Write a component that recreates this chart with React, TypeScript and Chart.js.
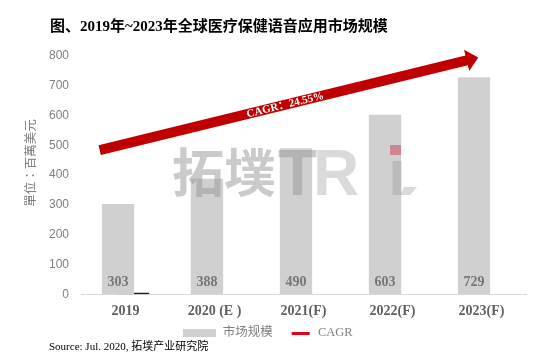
import React, { useEffect, useRef } from 'react';
import { Chart, registerables } from 'chart.js';

Chart.register(...registerables);

// ---- data ----
const categories = ['2019', '2020 (E )', '2021(F)', '2022(F)', '2023(F)'];
const marketSize = [303, 388, 490, 603, 729];
const cagrSeries = [5, null, null, null, null];
const seriesNames = ['市场规模', 'CAGR'];
const yMin = 0;
const yMax = 800;
const yStep = 100;
const cagrText = 'CAGR：24.55%';
// arrow annotation in data space (category index, value)
const arrowStart = { x: -0.29, y: 484 };
const arrowEnd = { x: 3.964, y: 795 };

const titleText = '图、2019年~2023年全球医疗保健语音应用市场规模';
const yTitleText = '單位：百萬美元';
const sourceText = 'Source: Jul. 2020, 拓墣产业研究院';
const watermarkCJK = '拓墣';

const BAR_COLOR = '#D0D0D0';
const RED_ARROW = '#C00000';
const LEGEND_RED = '#E3001B';

function makeSwatch(w: number, h: number, color: string, x0: number, x1: number) {
  const c = document.createElement('canvas');
  c.width = w;
  c.height = h;
  const g = c.getContext('2d')!;
  g.fillStyle = color;
  g.fillRect(x0, 0, x1 - x0, h);
  return c;
}

const decorPlugin = {
  id: 'decor',
  afterDatasetsDraw(chart: any) {
    const { ctx, scales } = chart;
    const x = scales.x;
    const y = scales.y;

    // watermark
    ctx.save();
    ctx.fillStyle = 'rgba(150,150,150,0.5)';
    ctx.textBaseline = 'middle';
    ctx.textAlign = 'left';
    ctx.font = 'bold 52px "Noto Sans CJK SC"';
    ctx.fillText(watermarkCJK, 172, 172);
    ctx.font = 'bold 64px "Liberation Sans"';
    ctx.textBaseline = 'alphabetic';
    ctx.fillStyle = 'rgba(150,150,150,0.5)';
    ctx.fillText('T', 278, 195);
    ctx.fillStyle = 'rgba(150,150,150,0.35)';
    ctx.fillText('R', 313, 195);
    ctx.fillText('ı', 388, 195);
    ctx.beginPath();
    ctx.moveTo(404, 187);
    ctx.lineTo(417, 187);
    ctx.lineTo(410, 195);
    ctx.lineTo(400, 195);
    ctx.closePath();
    ctx.fill();
    ctx.fillStyle = 'rgba(205,60,75,0.5)';
    ctx.fillRect(390, 145, 11, 10);
    ctx.restore();

    // data labels
    const meta = chart.getDatasetMeta(0);
    ctx.save();
    ctx.font = 'bold 14px "Liberation Serif"';
    ctx.fillStyle = '#767676';
    ctx.textAlign = 'center';
    ctx.textBaseline = 'middle';
    meta.data.forEach((bar: any, i: number) => {
      ctx.fillText(String(marketSize[i]), bar.x, bar.base - 12);
    });
    ctx.restore();

    // arrow
    const p0 = { x: x.getPixelForValue(arrowStart.x), y: y.getPixelForValue(arrowStart.y) };
    const p1 = { x: x.getPixelForValue(arrowEnd.x), y: y.getPixelForValue(arrowEnd.y) };
    const dx = p1.x - p0.x;
    const dy = p1.y - p0.y;
    const len = Math.hypot(dx, dy);
    const u = { x: dx / len, y: dy / len };
    const n = { x: -u.y, y: u.x };
    const shaft = 5;
    const headHalf = 11;
    const headLen = 12;
    const b = { x: p1.x - u.x * headLen, y: p1.y - u.y * headLen };
    ctx.save();
    ctx.fillStyle = RED_ARROW;
    ctx.beginPath();
    ctx.moveTo(p0.x + n.x * shaft, p0.y + n.y * shaft);
    ctx.lineTo(b.x + n.x * shaft, b.y + n.y * shaft);
    ctx.lineTo(b.x + n.x * headHalf, b.y + n.y * headHalf);
    ctx.lineTo(p1.x, p1.y);
    ctx.lineTo(b.x - n.x * headHalf, b.y - n.y * headHalf);
    ctx.lineTo(b.x - n.x * shaft, b.y - n.y * shaft);
    ctx.lineTo(p0.x - n.x * shaft, p0.y - n.y * shaft);
    ctx.closePath();
    ctx.fill();
    const t = 0.49;
    ctx.translate(p0.x + dx * t, p0.y + dy * t);
    ctx.rotate(Math.atan2(dy, dx));
    ctx.fillStyle = '#FFFFFF';
    ctx.font = 'bold 11px "Liberation Serif", "Noto Sans CJK SC"';
    ctx.textAlign = 'center';
    ctx.textBaseline = 'middle';
    ctx.fillText(cagrText, 0, 0.5);
    ctx.restore();
  },
  afterDraw(chart: any) {
    const { ctx } = chart;
    ctx.save();
    // title
    ctx.fillStyle = '#000000';
    ctx.font = 'bold 15px "Liberation Serif", "Noto Sans CJK SC"';
    ctx.textAlign = 'left';
    ctx.textBaseline = 'middle';
    ctx.fillText(titleText, 50, 27);
    // source
    ctx.font = '11px "Liberation Serif", "Noto Sans CJK SC"';
    ctx.fillText(sourceText, 49, 347);
    // y title
    ctx.translate(30, 163);
    ctx.rotate(-Math.PI / 2);
    ctx.textAlign = 'center';
    ctx.fillStyle = '#7f7f7f';
    ctx.font = '12.5px "Noto Sans CJK TC"';
    ctx.fillText(yTitleText, 0, 0);
    ctx.restore();
  },
};

export default function App() {
  const ref = useRef<HTMLCanvasElement | null>(null);

  useEffect(() => {
    document.body.style.margin = '0';
    const canvas = ref.current;
    if (!canvas) return;
    const greySwatch = makeSwatch(33, 8, BAR_COLOR, 0, 33);
    const redSwatch = makeSwatch(33, 3, LEGEND_RED, 13, 31);

    const chart = new Chart(canvas, {
      type: 'bar',
      data: {
        labels: categories,
        datasets: [
          {
            label: seriesNames[0],
            data: marketSize,
            backgroundColor: BAR_COLOR,
            borderWidth: 0,
          },
          {
            label: seriesNames[1],
            data: cagrSeries as any,
            backgroundColor: '#1a1a1a',
            borderWidth: 0,
          },
        ],
      },
      options: {
        responsive: false,
        animation: false,
        devicePixelRatio: 1,
        layout: { padding: { left: 10, right: 8, top: 56, bottom: 7.75 } },
        datasets: {
          bar: { categoryPercentage: 0.337, barPercentage: 2.153 },
        },
        scales: {
          x: {
            offset: true,
            grid: { display: false, drawTicks: false },
            border: { display: true, color: '#D9D9D9', width: 1 },
            ticks: {
              color: '#606060',
              font: { family: '"Liberation Serif"', size: 14, weight: 'bold' },
              padding: 9,
              maxRotation: 0,
              autoSkip: false,
            },
            afterFit: (s: any) => {
              s.height = 26.45;
            },
          },
          y: {
            min: yMin,
            max: yMax,
            grid: { display: false, drawTicks: false },
            border: { display: false },
            ticks: {
              stepSize: yStep,
              color: '#7f7f7f',
              font: { family: '"Liberation Sans"', size: 12 },
              padding: 12,
            },
            afterFit: (s: any) => {
              s.width = 71;
            },
          },
        },
        plugins: {
          tooltip: { enabled: false },
          title: { display: false },
          legend: {
            display: true,
            position: 'bottom',
            labels: {
              usePointStyle: true,
              pointStyleWidth: 33,
              boxHeight: 8,
              padding: 6,
              color: '#7f7f7f',
              font: { family: '"Liberation Serif", "Noto Sans CJK SC"', size: 12.5 },
              generateLabels: () => [
                {
                  text: seriesNames[0],
                  pointStyle: greySwatch as any,
                  fillStyle: BAR_COLOR,
                  strokeStyle: BAR_COLOR,
                  lineWidth: 0,
                  hidden: false,
                  datasetIndex: 0,
                  fontColor: '#7f7f7f',
                },
                {
                  text: seriesNames[1],
                  pointStyle: redSwatch as any,
                  fillStyle: LEGEND_RED,
                  strokeStyle: LEGEND_RED,
                  lineWidth: 0,
                  hidden: false,
                  datasetIndex: 1,
                  fontColor: '#7f7f7f',
                },
              ],
            },
          },
        },
      } as any,
      plugins: [decorPlugin],
    });
    return () => chart.destroy();
  }, []);

  return (
    <div style={{ width: 534, height: 357, background: '#ffffff' }}>
      <canvas ref={ref} width={534} height={357} style={{ display: 'block' }} />
    </div>
  );
}
